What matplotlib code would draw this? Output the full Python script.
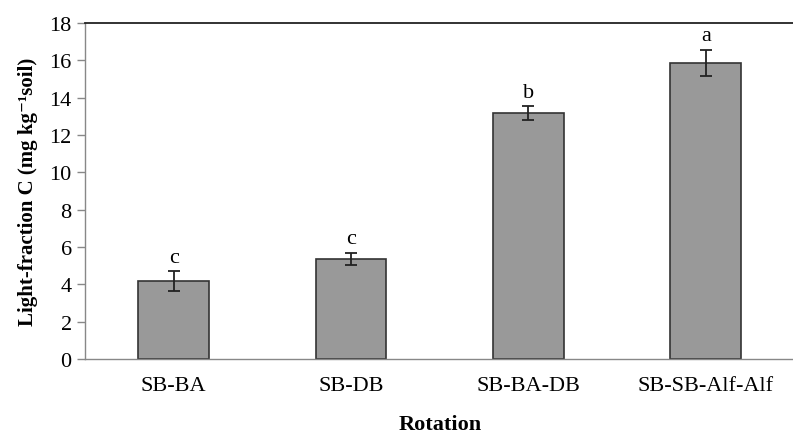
import numpy as np
import matplotlib
matplotlib.use('Agg')
import matplotlib.pyplot as plt

rotations = ['SB-BA', 'SB-DB', 'SB-BA-DB', 'SB-SB-Alf-Alf']
light_c = [4.18, 5.38, 13.18, 15.88]
err = [0.55, 0.32, 0.37, 0.70]
letters = ['c', 'c', 'b', 'a']

plt.rcParams['font.family'] = ['Liberation Serif', 'DejaVu Serif']

fig = plt.figure(figsize=(7.93, 4.39), dpi=100)
ax = fig.add_axes([0.107, 0.18, 0.895, 0.765])

x = np.arange(len(rotations))
ax.bar(x, light_c, width=0.4, color='#999999', edgecolor='#333333', linewidth=1.2,
       yerr=err, error_kw=dict(ecolor='#222222', elinewidth=1.3, capsize=4, capthick=1.3))

for xi, v, e, l in zip(x, light_c, err, letters):
    ax.annotate(l, (xi, v + e), xytext=(0, 3), textcoords='offset points',
                ha='center', va='bottom', fontsize=16)

ax.set_xlim(-0.5, 3.5)
ax.set_ylim(0, 18)
ax.set_yticks(range(0, 19, 2))
ax.set_xticks(x)
ax.set_xticklabels(rotations)
ax.tick_params(axis='y', labelsize=16, length=6, color='#888888', width=1)
ax.tick_params(axis='x', labelsize=16, length=0, pad=12)

for s in ['left', 'bottom']:
    ax.spines[s].set_color('#888888')
    ax.spines[s].set_linewidth(1)
ax.spines['right'].set_visible(False)
ax.spines['top'].set_color('#222222')
ax.spines['top'].set_linewidth(1.3)

ax.set_ylabel('Light-fraction C (mg kg⁻¹soil)', fontsize=15, fontweight='bold', labelpad=8)
ax.set_xlabel('Rotation', fontsize=16, fontweight='bold', labelpad=14)

fig.savefig('out.png', dpi=100)
